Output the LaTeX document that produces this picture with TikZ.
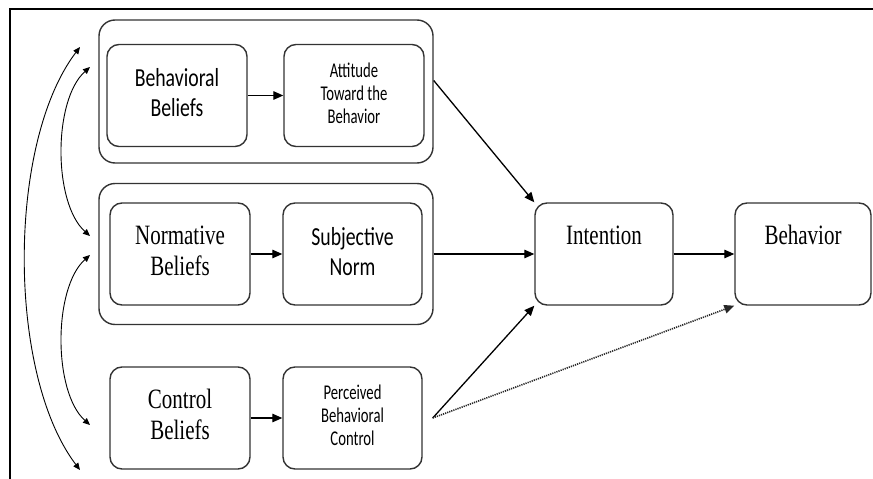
\documentclass[tikz,border=0pt]{standalone}
\usepackage{fontspec}
\setmainfont{Liberation Serif}
\newfontfamily\calibrifont{Carlito}
\usepackage{graphicx}
\usetikzlibrary{arrows.meta}
\newcommand{\sertxt}[1]{\scalebox{0.75}[1]{\fontsize{28}{31}\selectfont\begin{tabular}{@{}c@{}}#1\end{tabular}}}
\newcommand{\bigsans}[1]{\scalebox{0.76}[1]{\calibrifont\fontsize{26}{30}\selectfont\begin{tabular}{@{}c@{}}#1\end{tabular}}}
\newcommand{\smallsans}[1]{\scalebox{0.70}[1]{\calibrifont\fontsize{21}{23}\selectfont\begin{tabular}{@{}c@{}}#1\end{tabular}}}
\begin{document}
\begin{tikzpicture}[x=1pt,y=-1pt,
  box/.style={draw=black!80, line width=1.4pt, rounded corners=12pt, inner sep=0pt, minimum width=140pt, minimum height=102pt},
  group/.style={draw=black!80, line width=1.4pt, rounded corners=16pt, inner sep=0pt, minimum width=334pt},
  arr/.style={line width=1.3pt, -{Triangle[length=10pt,width=8.5pt]}},
  dotarr/.style={line width=1.6pt, black!85, dash pattern=on 1.2pt off 1pt, -{Triangle[length=10pt,width=8.5pt]}},
  curv/.style={line width=0.9pt, {Triangle[length=7pt,width=6pt]}-{Triangle[length=7pt,width=6pt]}},
  frame/.style={line width=2pt}]
\useasboundingbox (0,0) rectangle (873,479);
\draw[frame] (873,9) -- (10,9) -- (10,479);
\node[group, minimum height=143pt] (g1) at (266,91.5) {};
\node[group, minimum height=141pt] (g2) at (266,254) {};
\node[box] (bb) at (177,95.5) {\bigsans{Behavioral\\Beliefs}};
\node[box] (att) at (354,95.5) {\smallsans{Attitude\\Toward the\\Behavior}};
\node[box] (nb) at (180,254) {\sertxt{Normative\\Beliefs}};
\node[box, minimum width=139pt] (sn) at (352.5,254) {\bigsans{Subjective\\Norm}};
\node[box] (cb) at (180,418) {\sertxt{Control\\Beliefs}};
\node[box, minimum width=139pt] (pbc) at (352.5,418) {\smallsans{Perceived\\Behavioral\\Control}};
\node[box, minimum width=138pt] (int) at (604,254) {\sertxt{Intention\\\mbox{}}};
\node[box, minimum width=136pt] (beh) at (803,254) {\sertxt{Behavior\\\mbox{}}};
\draw[arr] (bb) -- (att);
\draw[arr] (nb) -- (sn);
\draw[arr] (cb) -- (pbc);
\draw[arr] ([yshift=11pt]g1.east) -- (int.north west);
\draw[arr] (g2.east) -- (int.west);
\coordinate (pstart) at ([xshift=10pt]pbc.east);
\draw[arr] (pstart) -- (int.south west);
\draw[dotarr] (pstart) -- (beh.south west);
\draw[arr] (int) -- (beh);
\coordinate (c1) at (80,47);
\coordinate (c2) at (80,470);
\draw[curv] (c1) .. controls (7,143) and (7,374) .. (c2);
\coordinate (c3) at (90,67);
\coordinate (c4) at (90,236);
\draw[curv] (c3) .. controls (53,100) and (53,203) .. (c4);
\coordinate (c5) at (90,255);
\coordinate (c6) at (90,425);
\draw[curv] (c5) .. controls (53,288) and (53,392) .. (c6);
\end{tikzpicture}
\end{document}
